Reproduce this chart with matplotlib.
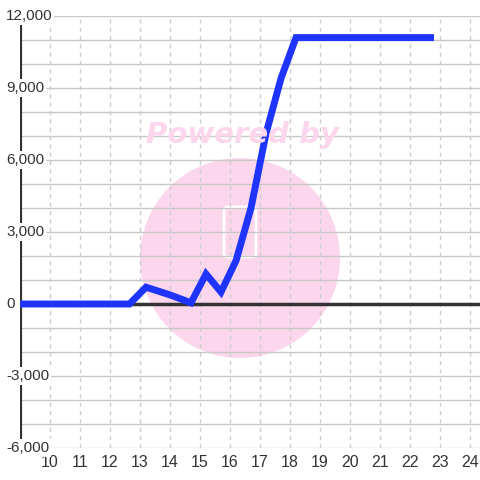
import matplotlib
matplotlib.use('Agg')
import matplotlib.pyplot as plt
from matplotlib.patches import Ellipse, FancyBboxPatch
from matplotlib.transforms import blended_transform_factory

plt.rcParams['font.family'] = ['Liberation Sans', 'DejaVu Sans']

# data
days = [9.0, 12.65, 13.2, 14.0, 14.7, 15.2, 15.7, 16.2, 16.7, 17.2, 17.7, 18.2, 22.8]
values = [0, 0, 700, 380, 50, 1250, 500, 1800, 4000, 7100, 9400, 11100, 11100]
x_ticks = list(range(10, 25))
y_ticks = [-6000, -3000, 0, 3000, 6000, 9000, 12000]
y_grid = list(range(-6000, 12001, 1000))

W = 480.0
fig = plt.figure(figsize=(4.8, 4.8), dpi=100)
ax = fig.add_axes([20 / W, 32 / W, 460 / W, 432 / W])
ax.set_xlim(9.0, 9.0 + 460 / 30)
ax.set_ylim(-6000, 12000)

# watermark
pink = '#fcd6ec'
ax.add_patch(Ellipse((240 / W, 1 - 258 / W), 200 / W, 200 / W, transform=fig.transFigure,
                     facecolor=pink, edgecolor='none', zorder=0.1))
ax.add_patch(FancyBboxPatch((224 / W, 1 - 257 / W), 32 / W, 50 / W,
                            boxstyle='round,pad=0,rounding_size=0.008',
                            transform=fig.transFigure, facecolor='none',
                            edgecolor='white', linewidth=2, zorder=0.15))
fig.text(242 / W, 1 - 135 / W, 'Powered by', color=pink, fontsize=21,
         fontweight='bold', style='italic', ha='center', va='center', zorder=0.1,
         family='DejaVu Sans')

# grid
for v in y_grid:
    ax.axhline(v, color='#c8c8c8', linewidth=1, zorder=0.5)
for t in x_ticks:
    ax.axvline(t, color='#cccccc', linewidth=1, linestyle=(0, (3, 3)), zorder=0.5)

ax.axhline(0, color='#333333', linewidth=2.5, zorder=1)
ax.axvline(9.0, color='#333333', linewidth=3, zorder=1)

ax.plot(days, values, color='#1f35ff', linewidth=5, solid_capstyle='butt',
        solid_joinstyle='miter', zorder=3)

for s in ax.spines.values():
    s.set_visible(False)
ax.set_xticks([])
ax.set_yticks([])

for t in x_ticks:
    ax.text(t, -6000 - 600, str(t), ha='center', va='center',
            fontsize=11.5, color='#333333', clip_on=False)

ytrans = blended_transform_factory(fig.transFigure, ax.transData)
for v in y_ticks:
    ax.text(6 / W, v, f'{v:,}', transform=ytrans,
            ha='left', va='center', fontsize=11, color='#333333', zorder=5,
            bbox=dict(boxstyle='square,pad=0.1', facecolor='white', edgecolor='none'))

fig.savefig('out.png', dpi=100, facecolor='white')
